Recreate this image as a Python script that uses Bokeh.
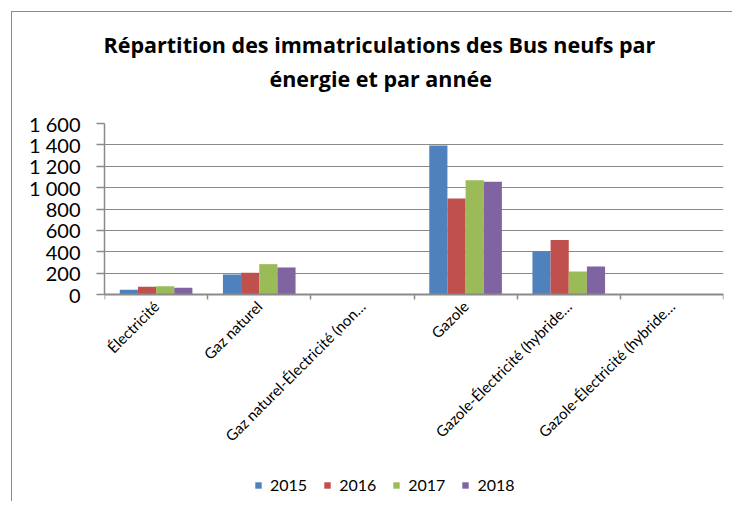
from bokeh.plotting import figure
from bokeh.models import (ColumnDataSource, FixedTicker, LinearAxis,
                          Range1d, Legend, LegendItem, Title)
from bokeh.transform import dodge
from bokeh.embed import file_html
from bokeh.resources import INLINE

# ---- data ----
categories = ["Électricité", "Gaz naturel", "Gaz naturel-Électricité (non rechargeable)",
              "Gazole", "Gazole-Électricité (hybride non rechargeable)",
              "Gazole-Électricité (hybride rechargeable)"]
tick_labels = ["Électricité", "Gaz naturel", "Gaz naturel-Électricité (non…",
               "Gazole", "Gazole-Électricité (hybride…", "Gazole-Électricité (hybride…"]
years = ["2015", "2016", "2017", "2018"]
v2015 = [44, 187, 0, 1394, 405, 0]
v2016 = [72, 203, 0, 898, 511, 0]
v2017 = [78, 284, 0, 1070, 215, 0]
v2018 = [62, 253, 0, 1054, 262, 0]
y_ticks = [0, 200, 400, 600, 800, 1000, 1200, 1400, 1600]
y_tick_labels = ["0", "200", "400", "600", "800", "1 000", "1 200", "1 400", "1 600"]
title_lines = ["Répartition des immatriculations des Bus neufs par", "énergie et par année"]
colors = ["#4F81BD", "#C0504D", "#9BBB59", "#8064A2"]

FONT = "Lato"
TFONT = "Open Sans"
GRID = "#8a8a8a"

n = len(categories)
centers = [i + 0.5 for i in range(n)]
bounds = list(range(n + 1))
source = ColumnDataSource(dict(xc=centers, cat=categories,
                               y2015=v2015, y2016=v2016, y2017=v2017, y2018=v2018))

# the frame extends below the value axis so that labels and legend live inside it
FRAME_H = 378
PLOT_H = 171
y_top = y_ticks[-1]
y_low = -y_top * (FRAME_H - PLOT_H) / PLOT_H

p = figure(frame_width=619, frame_height=FRAME_H, output_backend="svg", toolbar_location=None,
           x_range=Range1d(0, n), y_range=Range1d(y_low, y_top),
           x_axis_location=None, y_axis_location=None,
           min_border_left=92, min_border_right=9, min_border_top=111, min_border_bottom=0,
           margin=(11, 0, 0, 11))
p.styles = {"border-left": "1px solid #8a8a8a", "border-top": "1px solid #8a8a8a"}
p.outline_line_color = None
p.background_fill_color = "white"
p.border_fill_color = "white"

bw = 0.176
offsets = [-1.5 * bw, -0.5 * bw, 0.5 * bw, 1.5 * bw]
renderers = []
for yr, col, off in zip(years, colors, offsets):
    r = p.vbar(x=dodge("xc", off), top="y" + yr, bottom=0, width=bw, source=source,
               fill_color=col, line_color=None)
    renderers.append(r)

# y axis
yaxis = LinearAxis(ticker=FixedTicker(ticks=y_ticks), bounds=(0, y_top))
yaxis.major_label_overrides = {t: l for t, l in zip(y_ticks, y_tick_labels)}
yaxis.axis_line_color = GRID
yaxis.axis_line_width = 1.5
yaxis.major_tick_line_color = GRID
yaxis.major_tick_line_width = 1.5
yaxis.major_tick_out = 8
yaxis.major_tick_in = 0
yaxis.minor_tick_line_color = None
yaxis.major_label_standoff = 16
yaxis.major_label_text_font = FONT
yaxis.major_label_text_font_size = "20px"
yaxis.major_label_text_color = "black"
p.add_layout(yaxis, "left")

# x axis at value 0: labels at category centres, tick marks at category boundaries
xaxis = LinearAxis(ticker=FixedTicker(ticks=centers, minor_ticks=bounds), fixed_location=0)
xaxis.major_label_overrides = {c: l for c, l in zip(centers, tick_labels)}
xaxis.axis_line_color = GRID
xaxis.axis_line_width = 2
xaxis.major_tick_line_color = None
xaxis.major_tick_out = 0
xaxis.major_tick_in = 0
xaxis.minor_tick_line_color = GRID
xaxis.minor_tick_line_width = 1.5
xaxis.minor_tick_out = 5
xaxis.minor_tick_in = 0
xaxis.major_label_orientation = 0.785398
xaxis.major_label_standoff = 4
xaxis.major_label_text_font = FONT
xaxis.major_label_text_font_size = "15px"
xaxis.major_label_text_color = "black"
p.add_layout(xaxis, "below")

p.xgrid.visible = False
p.ygrid.grid_line_color = GRID
p.ygrid.grid_line_width = 1.2
p.ygrid.ticker = FixedTicker(ticks=y_ticks)

# title (two lines)
t2 = Title(text=title_lines[1], align="left", offset=165, text_font=TFONT, text_font_size="21.5px",
           text_font_style="bold", text_color="black", standoff=61)
t1 = Title(text=title_lines[0], align="left", offset=-1, text_font=TFONT, text_font_size="21.5px",
           text_font_style="bold", text_color="black", standoff=-55)
p.add_layout(t2, "above")
p.add_layout(t1, "above")

legend = Legend(items=[LegendItem(label=yr, renderers=[r]) for yr, r in zip(years, renderers)],
                orientation="horizontal", location=(150, 7),
                glyph_width=8, glyph_height=8, label_standoff=8, spacing=16,
                label_text_font=FONT, label_text_font_size="16px", label_text_color="black",
                padding=0, margin=0, border_line_color=None, background_fill_alpha=0)
p.add_layout(legend, "center")

open("out.html", "w").write(file_html(p, INLINE))
